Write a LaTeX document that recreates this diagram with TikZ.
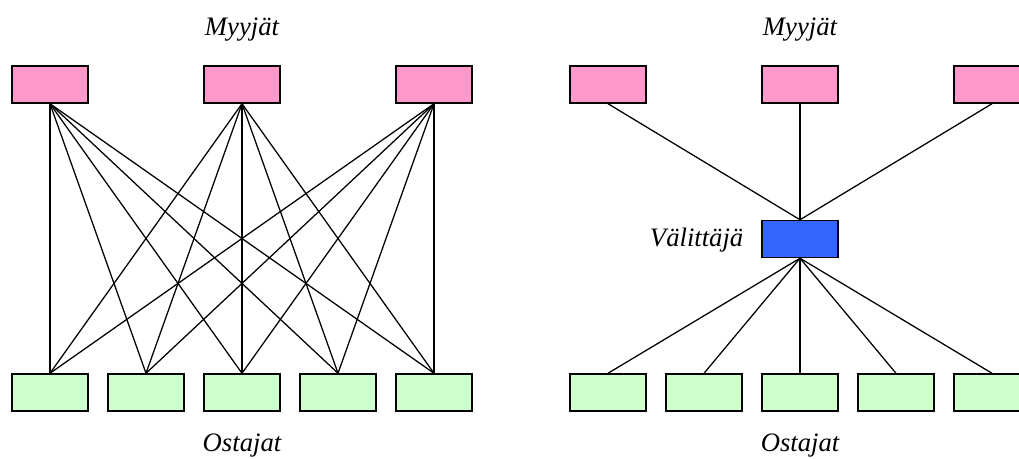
\documentclass[tikz,border=0pt]{standalone}
\usepackage{fontspec}
\setmainfont{Liberation Serif}
\usepackage{xcolor}
\definecolor{seller pink}{HTML}{FF99CC}
\definecolor{buyer green}{HTML}{CCFFCC}
\definecolor{broker blue}{HTML}{3366FF}
\colorlet{box edge}{black}
\tikzset{party/.style={draw=box edge, line width=1.1pt, rectangle, inner sep=0pt,
        minimum width=57pt, minimum height=27.75pt},
    seller/.style={party, fill=seller pink},
    buyer/.style={party, fill=buyer green},
    broker/.style={party, fill=broker blue},
    link/.style={draw=black, line width=0.95pt},
    caption/.style={font=\fontsize{20}{24}\selectfont\itshape}}

\begin{document}
\begin{tikzpicture}[x=0.75pt, y=-0.75pt]
    \useasboundingbox (0,0) rectangle (1019,459);
    % suora kauppa
    \foreach \i/\x in {1/50, 2/242, 3/434}
        \node[seller] (myyja\i) at (\x,84.5) {};
    \foreach \j/\x in {1/50, 2/146, 3/242, 4/338, 5/434}
        \node[buyer] (ostaja\j) at (\x,392.5) {};
    \foreach \i in {1,2,3}
        \foreach \j in {1,...,5}
            \draw[link] (myyja\i.south) -- (ostaja\j.north);
    \node[caption] (myyjat) at (242,30) {Myyjät};
    \node[caption] (ostajat) at (242,446) {Ostajat};
    % välittäjän kautta
    \node[broker] (valittaja) at (800,239) {};
    \node[caption, anchor=east] (valittajateksti) at (748,240) {Välittäjä};
    \foreach \i/\x in {1/608, 2/800, 3/992}
        \node[seller] (rmyyja\i) at (\x,84.5) {};
    \foreach \j/\x in {1/608, 2/704, 3/800, 4/896, 5/992}
        \node[buyer] (rostaja\j) at (\x,392.5) {};
    \foreach \i in {1,2,3}
        \draw[link] (rmyyja\i.south) -- (valittaja.north);
    \foreach \j in {1,...,5}
        \draw[link] (valittaja.south) -- (rostaja\j.north);
    \node[caption] (rmyyjat) at (800,30) {Myyjät};
    \node[caption] (rostajat) at (800,446) {Ostajat};
\end{tikzpicture}
\end{document}
